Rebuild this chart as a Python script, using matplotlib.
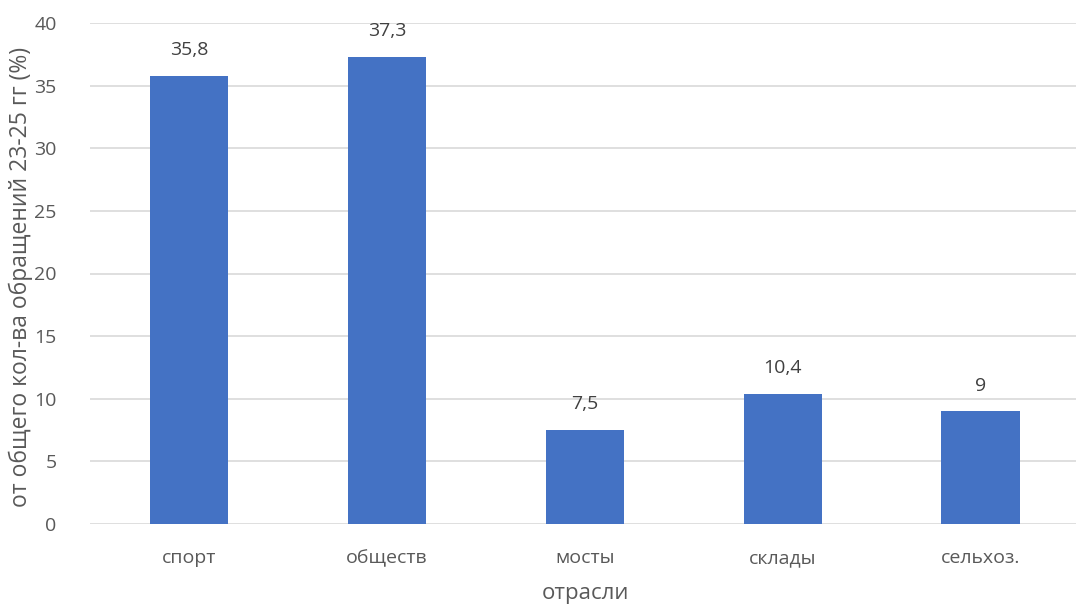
import matplotlib
matplotlib.use("Agg")
import matplotlib.pyplot as plt

categories = ["спорт", "обществ", "мосты", "склады", "сельхоз."]
values = [35.8, 37.3, 7.5, 10.4, 9]
value_labels = ["35,8", "37,3", "7,5", "10,4", "9"]

plt.rcParams['font.family'] = ['Open Sans', 'DejaVu Sans']
text_color = "#595959"

fig = plt.figure(figsize=(10.76, 6.06), dpi=100)
ax = fig.add_axes([90 / 1076, 1 - 524 / 606, (1079.5 - 90) / 1076, (524 - 23) / 606])

x = range(len(categories))
bars = ax.bar(x, values, width=0.395, color="#4472C4", zorder=3)
for b, lab in zip(bars, value_labels):
    ax.annotate(lab, (b.get_x() + b.get_width() / 2, b.get_height()),
                xytext=(0, 12), textcoords="offset points",
                ha="center", va="bottom", fontsize=14, color="#404040")

ax.set_xlim(-0.5, len(categories) - 0.5)
ax.set_ylim(0, 40)
ax.set_yticks(range(0, 41, 5))
ax.set_xticks(list(x))
ax.set_xticklabels(categories)
ax.tick_params(axis="both", length=0, labelsize=14, labelcolor=text_color)
ax.tick_params(axis="x", pad=18)
ax.tick_params(axis="y", pad=24)
ax.grid(axis="y", color="#D9D9D9", linewidth=1.2, zorder=0)
for s in ax.spines.values():
    s.set_visible(False)

fig.text(585 / 1076, 1 - 593 / 606, "отрасли", fontsize=16, color=text_color,
         ha="center", va="center")
fig.text(21 / 1076, 1 - 277 / 606, "от общего кол-ва обращений 23-25 гг (%)",
         fontsize=16.5, color=text_color, rotation=90, ha="center", va="center")

fig.savefig("out.png", dpi=100)
